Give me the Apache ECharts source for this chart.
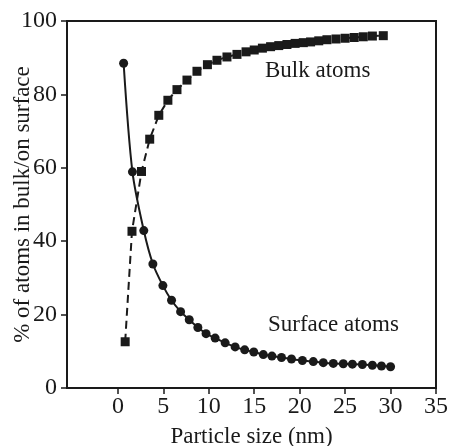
<!DOCTYPE html>
<html>
<head>
<meta charset="utf-8">
<script src="https://cdn.jsdelivr.net/npm/echarts@6/dist/echarts.min.js"></script>
<style>
  html, body { margin: 0; padding: 0; background: #fff; }
  #chart { width: 451px; height: 446px; }
</style>
</head>
<body>
<div id="chart"></div>
<script>
// particle size (nm) for each point
var bulkSize = [0.8, 1.55, 2.6, 3.5, 4.5, 5.5, 6.5, 7.6, 8.7, 9.85, 10.9, 12.0, 13.1, 14.1, 15.0, 15.9, 16.8, 17.7, 18.6, 19.5,
  20.4, 21.2, 22.1, 23.0, 24.0, 25.0, 26.0, 27.0, 28.0, 29.2];
var bulkPct = [12.6, 42.7, 59.0, 67.8, 74.3, 78.4, 81.3, 83.9, 86.3, 88.1, 89.3, 90.2, 90.9, 91.6, 92.1, 92.6, 93.0, 93.3, 93.6, 93.9,
  94.1, 94.3, 94.6, 94.9, 95.1, 95.3, 95.5, 95.7, 95.9, 96.0];

var surfSize = [0.63, 1.6, 2.85, 3.85, 4.95, 5.9, 6.9, 7.85, 8.8, 9.7, 10.7, 11.8, 12.9, 13.95, 14.95, 16.0, 16.95, 18.0, 19.1, 20.3,
  21.5, 22.6, 23.7, 24.8, 25.8, 26.9, 28.0, 29.0, 30.0];
var surfPct = [88.5, 58.9, 42.9, 33.8, 27.9, 23.9, 20.8, 18.6, 16.5, 14.8, 13.6, 12.3, 11.2, 10.4, 9.8, 9.1, 8.7, 8.3, 7.9, 7.5,
  7.2, 6.9, 6.7, 6.6, 6.5, 6.4, 6.2, 6.0, 5.8];

var xTicks = [0, 5, 10, 15, 20, 25, 30, 35];

function pairs(xs, ys) {
  return xs.map(function (x, i) { return [x, ys[i]]; });
}

var font = 'Liberation Serif, Times New Roman, serif';
var ink = '#1a1a1a';

var myChart = echarts.init(document.getElementById('chart'));
myChart.setOption({
  animation: false,
  grid: {
    left: 67, right: 15, top: 21, bottom: 58,
    show: true, borderColor: ink, borderWidth: 2,
    outerBoundsMode: 'none'
  },
  xAxis: {
    type: 'value',
    min: -5.6,
    max: 35,
    name: 'Particle size (nm)',
    nameLocation: 'middle',
    nameGap: 37,
    nameMoveOverlap: false,
    nameTextStyle: { fontFamily: font, fontSize: 23, color: ink },
    splitLine: { show: false },
    axisLine: { onZero: false, lineStyle: { color: ink, width: 2 } },
    axisTick: { customValues: xTicks, length: 6, lineStyle: { color: ink, width: 1.5 } },
    axisLabel: { customValues: xTicks, fontFamily: font, fontSize: 24, color: ink, margin: 7 }
  },
  yAxis: {
    type: 'value',
    min: 0,
    max: 100,
    interval: 20,
    name: '% of atoms in bulk/on surface',
    nameLocation: 'middle',
    nameGap: 33,
    nameMoveOverlap: false,
    nameTextStyle: { fontFamily: font, fontSize: 23, color: ink },
    splitLine: { show: false },
    axisLine: { onZero: false, lineStyle: { color: ink, width: 2 } },
    axisTick: { length: 6, lineStyle: { color: ink, width: 1.5 } },
    axisLabel: { fontFamily: font, fontSize: 24, color: ink, margin: 10 }
  },
  graphic: [
    { type: 'text', left: 265, top: 59, style: { text: 'Bulk atoms', font: '23px ' + font, fill: ink } },
    { type: 'text', left: 268, top: 313, style: { text: 'Surface atoms', font: '23px ' + font, fill: ink } }
  ],
  series: [
    {
      name: 'Bulk atoms',
      type: 'line',
      data: pairs(bulkSize, bulkPct),
      symbol: 'rect',
      symbolSize: 9,
      itemStyle: { color: ink },
      lineStyle: { color: ink, width: 2, type: [8, 5] }
    },
    {
      name: 'Surface atoms',
      type: 'line',
      data: pairs(surfSize, surfPct),
      smooth: 0.3,
      symbol: 'circle',
      symbolSize: 9,
      itemStyle: { color: ink },
      lineStyle: { color: ink, width: 2 }
    }
  ]
});
</script>
</body>
</html>
